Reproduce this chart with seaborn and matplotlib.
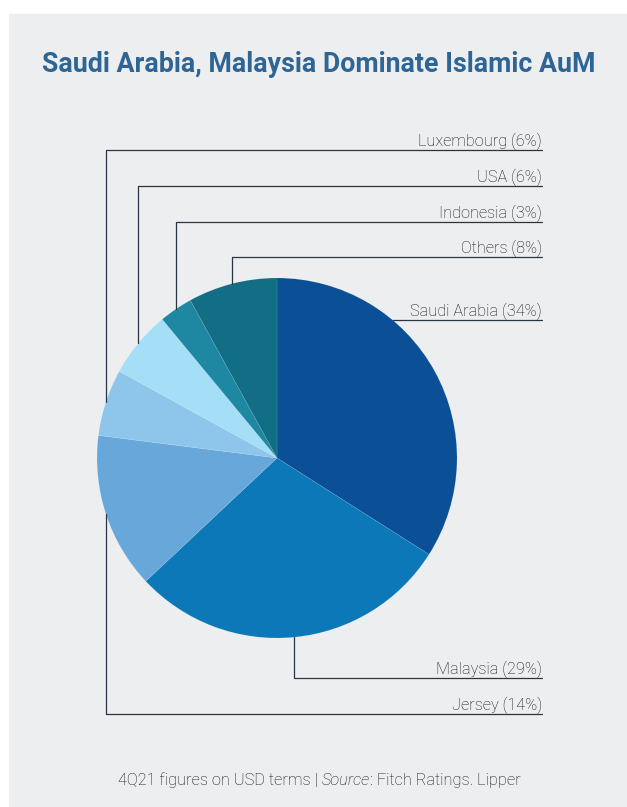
import numpy as np
import matplotlib.pyplot as plt
from matplotlib.patches import Rectangle
import seaborn as sns

# data
countries = ['Saudi Arabia', 'Malaysia', 'Jersey', 'Luxembourg', 'USA', 'Indonesia', 'Others']
shares = [34, 29, 14, 6, 6, 3, 8]
colors = ['#0B4F96', '#0C78B8', '#67A7D9', '#8DC6EA', '#A5DEF7', '#1E87A1', '#116E85']

title = 'Saudi Arabia, Malaysia Dominate Islamic AuM'
note_parts = ['4Q21 figures on USD terms | ', 'Source', ': Fitch Ratings. Lipper']

sns.set_style('white')
plt.rcParams['font.family'] = ['Roboto', 'DejaVu Sans']

W, H = 627, 807
fig = plt.figure(figsize=(W / 100, H / 100), dpi=100)
ax = fig.add_axes([0, 0, 1, 1])

# grey card behind everything
ax.add_patch(Rectangle((9, 0), W - 9, H - 14, color='#EDEEF0', zorder=0))

cx, cy, r = 277, H - 458, 180
wedges, _ = ax.pie(shares, colors=colors, startangle=90, counterclock=False,
                   center=(cx, cy), radius=r,
                   wedgeprops=dict(linewidth=0.4, edgecolor=(1, 1, 1, 0.15)))
ax.set_xlim(0, W)
ax.set_ylim(0, H)
ax.axis('off')

# leader lines, y of each label row (pixels from top)
label_rows = [320, 678, 714, 150, 186, 222, 257]
x_end = 542
line_kw = dict(color='#2B3445', lw=0.9, zorder=3)
for i, w in enumerate(wedges):
    ly = H - label_rows[i]
    if i == 0:
        x0 = cx + np.sqrt(r ** 2 - (ly - cy) ** 2)
        ax.plot([x0, x_end], [ly, ly], **line_kw)
    else:
        mid = np.deg2rad((w.theta1 + w.theta2) / 2)
        ex, ey = cx + r * np.cos(mid), cy + r * np.sin(mid)
        ax.plot([ex, ex, x_end], [ey, ly, ly], **line_kw)
    ax.text(x_end, ly + 4, f'{countries[i]} ({shares[i]}%)', ha='right', va='baseline',
            fontsize=11.7, fontweight='light', color='#111111', zorder=4)

fig.text(319 / W, 1 - 72 / H, title, ha='center', va='baseline',
         fontsize=19.3, fontweight='bold', color='#2F6594')

# footer with italic "Source"
renderer = fig.canvas.get_renderer()
styles = ['normal', 'italic', 'normal']
pieces = []
for txt, st in zip(note_parts, styles):
    t = fig.text(0, 1 - 785 / H, txt, fontsize=11.8, fontweight='light', style=st,
                 color='#111111', va='baseline', ha='left')
    pieces.append(t)
widths = [p.get_window_extent(renderer).width for p in pieces]
x = 319 - sum(widths) / 2
for p, wd in zip(pieces, widths):
    p.set_x(x / W)
    x += wd

fig.savefig('out.png', dpi=100, facecolor='white')
